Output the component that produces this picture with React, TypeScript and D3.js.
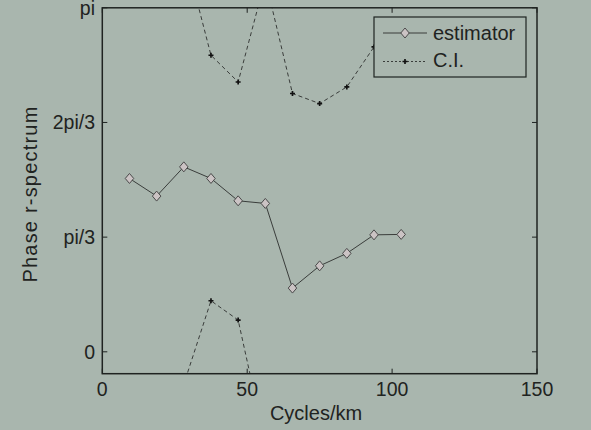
import * as d3 from 'd3';

// ---------------------------------------------------------------------------
// Data
// ---------------------------------------------------------------------------
const FREQS = [9.375, 18.75, 28.125, 37.5, 46.875, 56.25, 65.625, 75, 84.375, 93.75, 103.125];
const ESTIMATOR = [1.583, 1.422, 1.689, 1.583, 1.379, 1.355, 0.582, 0.785, 0.899, 1.068, 1.072];
const CI_UPPER = [3.5, 3.6, 3.671, 2.708, 2.464, 3.399, 2.359, 2.267, 2.419, 2.784, 3.0];
const CI_LOWER = [-0.9, -0.6, -0.296, 0.466, 0.29, -0.84, -1.2, -1.3, -1.1, -0.7, -0.8];

const X_TICKS = [0, 50, 100, 150];
const Y_TICKS = [0, Math.PI / 3, (2 * Math.PI) / 3, Math.PI];
const Y_TICK_LABELS = ['0', 'pi/3', '2pi/3', 'pi'];

// ---------------------------------------------------------------------------
// Style
// ---------------------------------------------------------------------------
const BG = '#a9b6ae';
const INK = '#1f2321';
const LINE = '#3a3d3b';
const DIAMOND_FILL = '#cbc3c4';
const FONT = '"Liberation Sans", Arial, sans-serif';

const W = 591;
const H = 430;
const plot = { left: 102.3, right: 537, top: 7.8, bottom: 373.7 };

type Pt = { x: number; y: number };

function diamond(cx: number, cy: number, r = 5) {
  return `M${cx},${cy - r}L${cx + r * 0.85},${cy}L${cx},${cy + r}L${cx - r * 0.85},${cy}Z`;
}

export default function App() {
  const x = d3.scaleLinear().domain([0, 150]).range([plot.left, plot.right]);
  const y = d3.scaleLinear().domain([-0.2, Math.PI]).range([plot.bottom, plot.top]);

  const line = d3
    .line<Pt>()
    .x((d) => x(d.x))
    .y((d) => y(d.y));

  const est: Pt[] = FREQS.map((f, i) => ({ x: f, y: ESTIMATOR[i] }));
  const up: Pt[] = FREQS.map((f, i) => ({ x: f, y: CI_UPPER[i] }));
  const lo: Pt[] = FREQS.map((f, i) => ({ x: f, y: CI_LOWER[i] }));
  const inside = (d: Pt) => d.y >= -0.2 && d.y <= Math.PI;

  const tick = 5;
  const pw = plot.right - plot.left;
  const ph = plot.bottom - plot.top;

  // legend box
  const lg = { x: 374, y: 17, w: 152, h: 60 };

  return (
    <svg
      width={W}
      height={H}
      style={{ position: 'absolute', left: 0, top: 0, fontFamily: FONT }}
    >
      <defs>
        <clipPath id="plot-clip">
          <rect x={plot.left} y={plot.top} width={pw} height={ph} />
        </clipPath>
      </defs>
      <rect width={W} height={H} fill={BG} />

      {/* CI lines, clipped to the axes like matlab does */}
      <g clipPath="url(#plot-clip)">
        {[up, lo].map((s, k) => (
          <path
            key={k}
            d={line(s) ?? ''}
            fill="none"
            stroke={LINE}
            strokeWidth={1}
            strokeDasharray="4,3"
          />
        ))}
        {[...up, ...lo].filter(inside).map((d, i) => (
          <path
            key={i}
            transform={`translate(${x(d.x)},${y(d.y)})`}
            d={d3.symbol(d3.symbolCross, 14)() ?? ''}
            fill="#111"
          />
        ))}
      </g>

      {/* estimator */}
      <path d={line(est) ?? ''} fill="none" stroke={LINE} strokeWidth={1} />
      {est.map((d, i) => (
        <path
          key={i}
          d={diamond(x(d.x), y(d.y))}
          fill={DIAMOND_FILL}
          stroke="#4a4a4a"
          strokeWidth={1}
        />
      ))}

      {/* frame */}
      <rect
        x={plot.left}
        y={plot.top}
        width={pw}
        height={ph}
        fill="none"
        stroke={INK}
        strokeWidth={1.5}
      />

      {/* x ticks */}
      {X_TICKS.map((t) => (
        <g key={t}>
          <line x1={x(t)} x2={x(t)} y1={plot.bottom} y2={plot.bottom - tick} stroke={INK} />
          <line x1={x(t)} x2={x(t)} y1={plot.top} y2={plot.top + tick} stroke={INK} />
          <text x={x(t)} y={396} textAnchor="middle" fontSize={19.5} fill={INK}>
            {t}
          </text>
        </g>
      ))}

      {/* y ticks */}
      {Y_TICKS.map((t, i) => (
        <g key={i}>
          <line x1={plot.left} x2={plot.left + tick} y1={y(t)} y2={y(t)} stroke={INK} />
          <line x1={plot.right} x2={plot.right - tick} y1={y(t)} y2={y(t)} stroke={INK} />
          <text
            x={95}
            y={y(t)}
            dy="0.35em"
            textAnchor="end"
            fontSize={19.5}
            fill={INK}
          >
            {Y_TICK_LABELS[i]}
          </text>
        </g>
      ))}

      {/* axis labels */}
      <text x={316} y={420} textAnchor="middle" fontSize={20} fill={INK}>
        Cycles/km
      </text>
      <text
        transform="translate(37,194) rotate(-90)"
        textAnchor="middle"
        fontSize={20}
        letterSpacing={1.2}
        fill={INK}
      >
        Phase r-spectrum
      </text>

      {/* legend */}
      <g>
        <rect x={lg.x} y={lg.y} width={lg.w} height={lg.h} fill={BG} stroke={INK} strokeWidth={1.2} />
        <line x1={383} x2={427} y1={33} y2={33} stroke={LINE} strokeWidth={1} />
        <path d={diamond(405, 33, 5)} fill={DIAMOND_FILL} stroke="#4a4a4a" />
        <text x={433} y={39.5} fontSize={20} fill={INK}>
          estimator
        </text>
        <line
          x1={383}
          x2={427}
          y1={61.5}
          y2={61.5}
          stroke={LINE}
          strokeWidth={1}
          strokeDasharray="2,2"
        />
        <path
          transform="translate(405,61.5)"
          d={d3.symbol(d3.symbolCross, 14)() ?? ''}
          fill="#111"
        />
        <text x={433} y={67} fontSize={20} fill={INK}>
          C.I.
        </text>
      </g>
    </svg>
  );
}
